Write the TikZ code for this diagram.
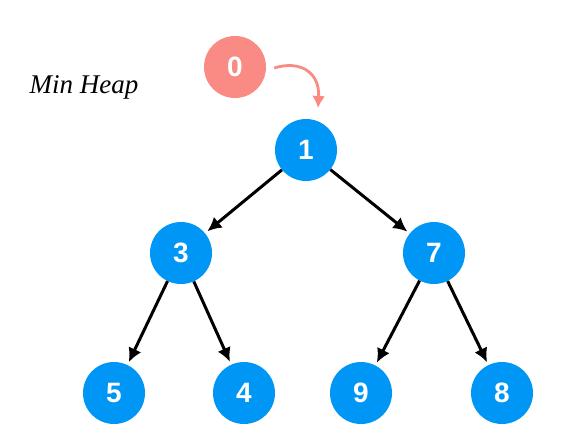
\documentclass[tikz,border=0pt]{standalone}
\usepackage{fontspec}
\setmainfont{Liberation Sans}
\newfontfamily\handfont{Liberation Serif}
\usetikzlibrary{arrows.meta}
\definecolor{heapblue}{HTML}{0096F6}
\definecolor{heapred}{HTML}{FA8A84}
\begin{document}
\begin{tikzpicture}[x=1pt,y=-1pt,
  heapnode/.style={circle, fill=heapblue, minimum size=62pt, inner sep=0pt,
    text=white, font=\fontsize{28}{28}\selectfont\bfseries},
  newnode/.style={heapnode, fill=heapred},
  edge/.style={line width=3pt, -{Latex[length=14pt,width=14pt]}, shorten >=3pt},
  insert/.style={line width=2.8pt, heapred, -{Latex[length=12pt,width=13pt]}}]
  \useasboundingbox (0,0) rectangle (575,447);
  % heap nodes
  \node[newnode] (n0) at (235,67) {0};
  \node[heapnode] (n1) at (306,150) {1};
  \node[heapnode] (n3) at (181,253) {3};
  \node[heapnode] (n7) at (434,253) {7};
  \node[heapnode] (n5) at (114,393) {5};
  \node[heapnode] (n4) at (244,393) {4};
  \node[heapnode] (n9) at (361,393) {9};
  \node[heapnode] (n8) at (502,393) {8};
  % label
  \node[font=\handfont\itshape\fontsize{27}{27}\selectfont, anchor=west] (title) at (26,87) {Min Heap};
  % parent-child edges
  \draw[edge] (n1) -- (n3);
  \draw[edge] (n1) -- (n7);
  \draw[edge] (n3) -- (n5);
  \draw[edge] (n3) -- (n4);
  \draw[edge] (n7) -- (n9);
  \draw[edge] (n7) -- (n8);
  % incoming element
  \coordinate (drop) at (318,108);
  \draw[insert] (n0.east) ++(8,1) .. controls (300,60) and (320,72) .. (drop);
\end{tikzpicture}
\end{document}
